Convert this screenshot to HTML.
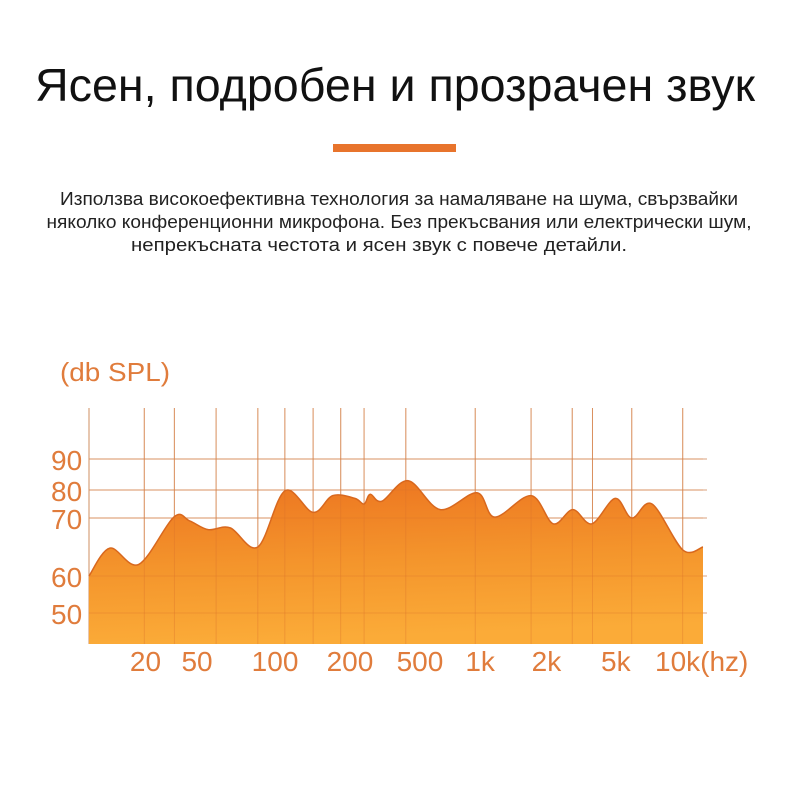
<!DOCTYPE html>
<html><head><meta charset="utf-8"><style>
html,body{margin:0;padding:0;background:#fff;width:790px;height:790px;overflow:hidden}
svg{display:block}
.t{font-family:"Liberation Sans",sans-serif}
</style></head><body>
<svg id="chart" width="790" height="790" viewBox="0 0 790 790">
<defs>
<linearGradient id="fillGrad" x1="0" y1="0" x2="0.15" y2="1">
<stop offset="0" stop-color="#ec7320"/>
<stop offset="0.55" stop-color="#f4952c"/>
<stop offset="1" stop-color="#fbab38"/>
</linearGradient>
</defs>
<text class="t" x="395" y="101" text-anchor="middle" font-size="46" fill="#111" textLength="720" lengthAdjust="spacingAndGlyphs">Ясен, подробен и прозрачен звук</text>
<rect x="333" y="144" width="123" height="8" fill="#e8742c"/>
<g class="t" font-size="18" fill="#222">
<text x="399" y="205" text-anchor="middle" textLength="678" lengthAdjust="spacingAndGlyphs">Използва високоефективна технология за намаляване на шума, свързвайки</text>
<text x="399" y="228" text-anchor="middle" textLength="705" lengthAdjust="spacingAndGlyphs">няколко конференционни микрофона. Без прекъсвания или електрически шум,</text>
<text x="379" y="251" text-anchor="middle" textLength="496" lengthAdjust="spacingAndGlyphs">непрекъсната честота и ясен звук с повече детайли.</text>
</g>
<text class="t" x="60" y="381" font-size="26" fill="#e07c3c" textLength="110" lengthAdjust="spacingAndGlyphs">(db SPL)</text>
<g id="grid"></g>
<g id="area"></g>
<g id="ylabels"></g>
<g id="xlabels"></g>
</svg>
<script>
// y-axis ticks (dB) — axis is non-uniform in the original
const yTicks = [40, 50, 60, 70, 80, 90];
const yTickLabels = ["", "50", "60", "70", "80", "90"];
const yTickPix = [644, 613, 576, 518, 490, 459];
// x axis: log-ish position units 0..100 across plot
const xGridPos = [9.0, 13.9, 20.7, 27.5, 31.9, 36.5, 41.0, 44.8, 51.6, 62.9, 72.0, 78.7, 82.0, 88.4, 96.7];
const xLabels = ["20", "50", "100", "200", "500", "1k", "2k", "5k", "10k(hz)"];
const xLabelPos = [9.2, 17.6, 30.3, 42.5, 53.9, 63.7, 74.5, 85.8, 96.5];
// response curve: position units and dB values
const curveX = [0, 3.4, 8.1, 13.8, 16.4, 19.4, 23.0, 27.5, 31.9, 36.5, 39.7, 43.3, 44.8, 45.8, 47.7, 52.0, 57.2, 63.2, 66.1, 72.0, 75.6, 78.8, 81.9, 85.7, 88.4, 91.7, 96.7, 100];
const curveDB = [60, 64.8, 62, 70.3, 69.5, 68, 68.3, 65, 79.7, 72, 78, 77, 75, 78.5, 76, 83, 73, 79, 70.3, 78, 69, 73, 69, 77, 70, 75, 64.5, 65];

const L = 89, R = 703, TOP = 408, BOT = 644;
const NS = "http://www.w3.org/2000/svg";
function xs(p){ return L + (R - L) * p / 100; }
function ys(v){
  for (let i = 0; i < yTicks.length - 1; i++) {
    if (v <= yTicks[i+1]) {
      const t = (v - yTicks[i]) / (yTicks[i+1] - yTicks[i]);
      return yTickPix[i] + t * (yTickPix[i+1] - yTickPix[i]);
    }
  }
  const n = yTicks.length - 1;
  return yTickPix[n] + (v - yTicks[n]) * (yTickPix[n] - yTickPix[n-1]) / (yTicks[n] - yTicks[n-1]);
}
function mk(tag, attrs, parent){
  const e = document.createElementNS(NS, tag);
  for (const k in attrs) e.setAttribute(k, attrs[k]);
  parent.appendChild(e);
  return e;
}
const grid = document.getElementById('grid');
const gl = mk('line', {x1: L, y1: TOP, x2: L, y2: BOT, stroke: '#d7a27c', 'stroke-width': 1.2}, grid);


xGridPos.forEach(p => {
  const l = mk('line', {x1: xs(p), y1: TOP, x2: xs(p), y2: BOT, stroke: '#d9a27c', 'stroke-width': 1}, grid);
  
  
});
yTicks.forEach((v, i) => {
  if (!yTickLabels[i]) return;
  const l = mk('line', {x1: L, y1: ys(v), x2: 707, y2: ys(v), stroke: '#d9a27c', 'stroke-width': 1}, grid);
  
  
});
// smooth curve (Catmull-Rom)
const pts = curveX.map((p, i) => [xs(p), ys(curveDB[i])]);
let d = `M${L},${BOT} L${pts[0][0]},${pts[0][1]}`;
let ld = `M${pts[0][0]},${pts[0][1]}`;
for (let i = 0; i < pts.length - 1; i++) {
  const p0 = pts[Math.max(0, i-1)], p1 = pts[i], p2 = pts[i+1], p3 = pts[Math.min(pts.length-1, i+2)];
  const c1 = [p1[0] + (p2[0]-p0[0])/6, p1[1] + (p2[1]-p0[1])/6];
  const c2 = [p2[0] - (p3[0]-p1[0])/6, p2[1] - (p3[1]-p1[1])/6];
  const seg = ` C${c1[0]},${c1[1]} ${c2[0]},${c2[1]} ${p2[0]},${p2[1]}`;
  d += seg; ld += seg;
}
d += ` L${R},${BOT} Z`;
const area = document.getElementById('area');
const a = mk('path', {d: d, fill: 'url(#fillGrad)'}, area);


const ln = mk('path', {d: ld, fill: 'none', stroke: '#d8681e', 'stroke-width': 1.5}, area);


xGridPos.forEach(p => {
  const l = mk('line', {x1: xs(p), y1: TOP, x2: xs(p), y2: BOT, stroke: '#d9702a', 'stroke-width': 0.8, opacity: 0.45}, area);
  
  
});
yTicks.forEach((v, i) => {
  if (!yTickLabels[i]) return;
  const l = mk('line', {x1: L, y1: ys(v), x2: R, y2: ys(v), stroke: '#d9702a', 'stroke-width': 0.8, opacity: 0.45}, area);
  
  
});
const yl = document.getElementById('ylabels');
yTicks.forEach((v, i) => {
  if (!yTickLabels[i]) return;
  const t = mk('text', {x: 51, y: ys(v) + 11, 'font-size': 28, fill: '#e07c3c', class: 't'}, yl);
  t.textContent = yTickLabels[i];
  
  
});
const xl = document.getElementById('xlabels');
xLabels.forEach((s, i) => {
  const last = i === xLabels.length - 1;
  const t = mk('text', {x: last ? 655 : xs(xLabelPos[i]), y: 671, 'font-size': 28, fill: '#e07c3c', class: 't', 'text-anchor': last ? 'start' : 'middle'}, xl);
  t.textContent = s;
  
  
});
</script>
</body></html>
